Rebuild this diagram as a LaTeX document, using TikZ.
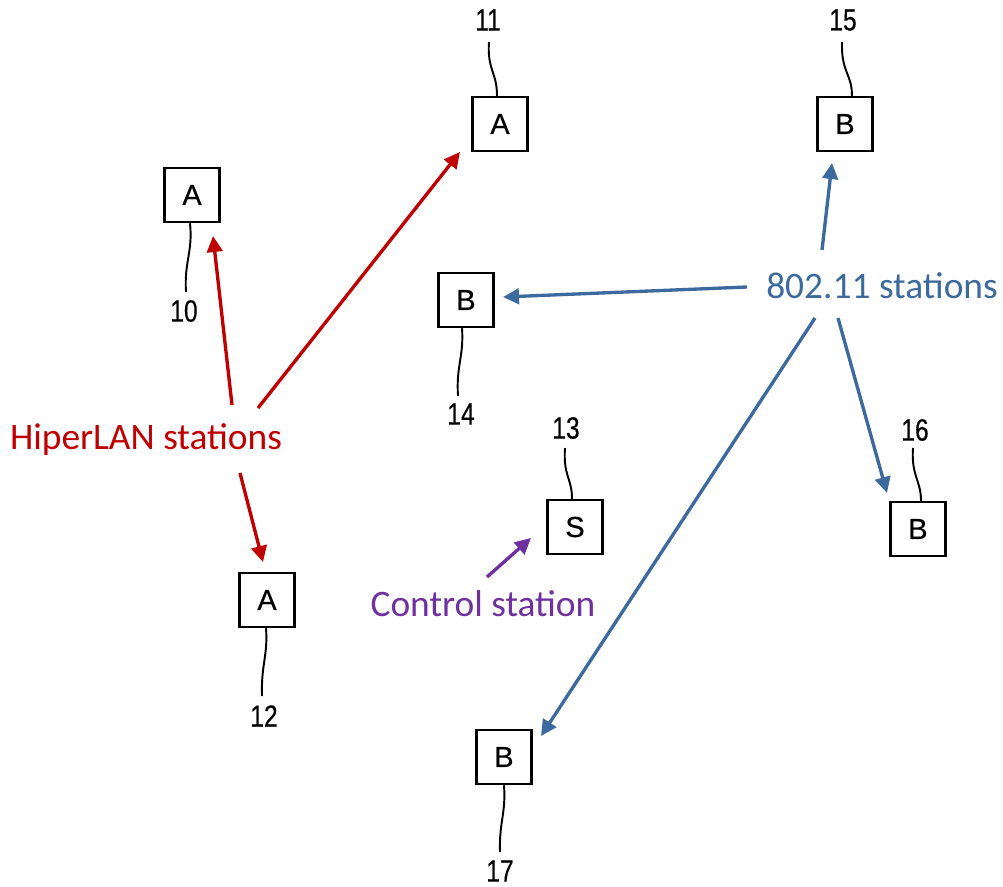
\documentclass[tikz,border=0pt]{standalone}
\usepackage{fontspec}
\usepackage{graphicx}
\setmainfont{Carlito}
\newfontfamily\numfont[FakeBold=0.5]{Liberation Sans}
\usetikzlibrary{arrows.meta}
\definecolor{hlred}{HTML}{C00000}
\definecolor{wifiblue}{HTML}{3D6A9E}
\definecolor{ctlpurple}{HTML}{7030A0}
\tikzset{
  stationbox/.style={draw=black, line width=1.4pt, minimum width=1.1cm, minimum height=1.08cm, inner sep=0pt,
    font=\numfont\fontsize{16.5}{16.5}\selectfont},
  refnum/.style={inner sep=0pt, font=\numfont\fontsize{17.5}{17.5}\selectfont},
  leader/.style={draw=black, line width=1.1pt},
  callout/.style={inner sep=0pt, font=\fontsize{21.3}{25}\selectfont},
  arr/.style={line width=1.9pt, -{Triangle[length=0.32cm, width=0.31cm]}},
}
\newcommand{\nrw}[1]{\scalebox{0.8}[1]{#1}}
\begin{document}
\begin{tikzpicture}[x=0.02cm, y=-0.02cm]
\useasboundingbox (0,0) rectangle (1003,886);

% station boxes
\node[stationbox] (b10) at (192,195) {A};
\node[stationbox] (b11) at (500,124) {A};
\node[stationbox] (b15) at (845,124) {B};
\node[stationbox] (b14) at (466,300) {B};
\node[stationbox] (b13) at (575,527) {S};
\node[stationbox] (b16) at (918,529) {B};
\node[stationbox] (b12) at (267,600) {A};
\node[stationbox] (b17) at (504,757) {B};

% reference numbers
\node[refnum] (n10) at (184,311) {\nrw{10}};
\node[refnum] (n11) at (488,20) {\nrw{11}};
\node[refnum] (n15) at (843,20) {\nrw{15}};
\node[refnum] (n14) at (461,414) {\nrw{14}};
\node[refnum] (n13) at (566,428) {\nrw{13}};
\node[refnum] (n16) at (915,430) {\nrw{16}};
\node[refnum] (n12) at (264,716) {\nrw{12}};
\node[refnum] (n17) at (500,871) {\nrw{17}};

% leader lines
\draw[leader] (b10.south -| 190,0) .. controls (193,252) and (184,262) .. (186,292);
\draw[leader] (489,42) .. controls (487,70) and (497,72) .. (b11.north -| 497,0);
\draw[leader] (842,42) .. controls (841,72) and (852,74) .. (b15.north -| 852,0);
\draw[leader] (b14.south -| 462,0) .. controls (464,356) and (456,366) .. (458,396);
\draw[leader] (565,448) .. controls (563,476) and (572,478) .. (b13.north -| 572,0);
\draw[leader] (913,448) .. controls (911,476) and (921,480) .. (b16.north -| 921,0);
\draw[leader] (b12.south -| 266,0) .. controls (268,656) and (261,664) .. (262,696);
\draw[leader] (b17.south -| 504,0) .. controls (506,814) and (499,822) .. (500,852);

% callout texts
\node[callout, text=hlred] (hl) at (146,440) {HiperLAN stations};
\node[callout, text=wifiblue] (wf) at (882,286) {802.11 stations};
\node[callout, text=ctlpurple] (cs) at (483,604) {Control station};

% arrow end points
\coordinate (r1s) at (232,405); \coordinate (r1e) at (213,236);
\coordinate (r2s) at (258,408); \coordinate (r2e) at (460,152);
\coordinate (r3s) at (240,473); \coordinate (r3e) at (263,562);
\coordinate (w1s) at (822,250); \coordinate (w1e) at (832,163);
\coordinate (w2s) at (747,287); \coordinate (w2e) at (503,297);
\coordinate (w3s) at (838,318); \coordinate (w3e) at (887,493);
\coordinate (w4s) at (815,318); \coordinate (w4e) at (541,736);
\coordinate (c1s) at (487,577); \coordinate (c1e) at (531,538);

\draw[arr, hlred] (r1s) -- (r1e);
\draw[arr, hlred] (r2s) -- (r2e);
\draw[arr, hlred] (r3s) -- (r3e);
\draw[arr, wifiblue] (w1s) -- (w1e);
\draw[arr, wifiblue] (w2s) -- (w2e);
\draw[arr, wifiblue] (w3s) -- (w3e);
\draw[arr, wifiblue] (w4s) -- (w4e);
\draw[arr, ctlpurple] (c1s) -- (c1e);
\end{tikzpicture}
\end{document}
